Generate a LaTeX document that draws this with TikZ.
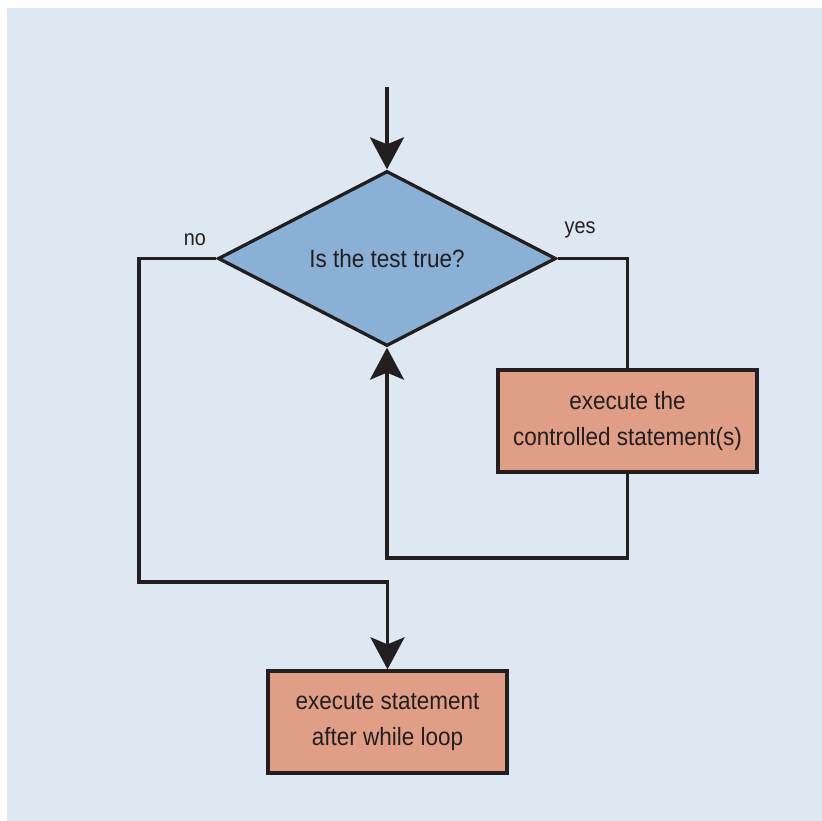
\documentclass[tikz,border=0pt]{standalone}
\usepackage{fontspec}
\setmainfont{Liberation Sans}[FakeStretch=0.9]
\usetikzlibrary{shapes.geometric,arrows.meta}
\definecolor{bg}{RGB}{222,232,242}
\definecolor{dfill}{RGB}{138,176,214}
\definecolor{bfill}{RGB}{224,158,135}
\definecolor{ink}{RGB}{35,31,32}
\tikzset{
  flow/.style={draw=ink,line width=3.3pt},
  arr/.style={flow,-{Stealth[length=32pt,width=34pt,inset=7pt]}},
  decision/.style={diamond,draw=ink,line width=3.3pt,fill=dfill,inner sep=0pt,minimum width=338pt,minimum height=175pt,text=ink,font=\fontsize{25}{30}\selectfont},
  procbox/.style={rectangle,draw=ink,line width=3.3pt,fill=bfill,inner sep=0pt,text=ink,align=center,font=\fontsize{25}{36}\selectfont},
  lbl/.style={text=ink,font=\fontsize{22}{26}\selectfont}
}
\begin{document}
\begin{tikzpicture}[x=1pt,y=-1pt]
\useasboundingbox (0,0) rectangle (822,821);
\fill[bg] (7,8) rectangle (822,821);
\coordinate (start) at (387,87);
\node[decision] (dec) at (387,258.5) {Is the test true?};
\node[procbox,minimum width=259pt,minimum height=102pt] (body) at (627.5,421) {execute the\\controlled statement(s)};
\node[procbox,minimum width=239pt,minimum height=102pt] (after) at (387.5,722) {execute statement\\after while loop};
\node[lbl] (no) at (195,240) {no};
\node[lbl] (yes) at (580,230) {yes};
\draw[arr] (start) -- (dec.north);
\draw[flow] (dec.east) -| (body.north);
\draw[arr] (body.south) |- (387,558) -- (dec.south);
\draw[arr] (dec.west) -| (139,582) -| (after.north);
\end{tikzpicture}
\end{document}
